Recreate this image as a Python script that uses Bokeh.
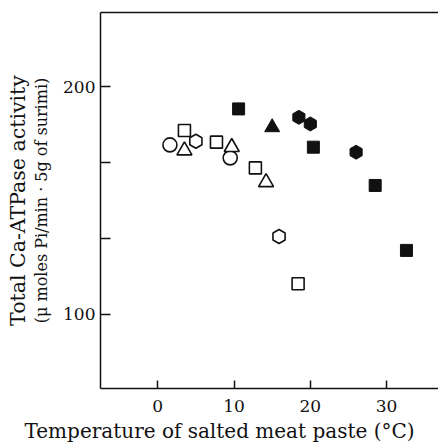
import numpy as np
from bokeh.plotting import figure
from bokeh.models import Range1d, FixedTicker, LinearAxis, Title
from bokeh.embed import file_html
from bokeh.resources import INLINE

# Data (temperature °C, total Ca-ATPase activity)
open_circle_x = [1.6, 9.5]
open_circle_y = [174.4, 168.7]
open_triangle_x = [3.5, 9.7, 14.2]
open_triangle_y = [171.9, 173.4, 158.0]
open_square_x = [3.5, 7.7, 12.8, 18.4]
open_square_y = [180.7, 175.6, 164.3, 113.5]
open_hex_x = [5.0, 15.9]
open_hex_y = [176.0, 134.2]
filled_square_x = [10.6, 20.4, 28.5, 32.6]
filled_square_y = [190.2, 173.4, 156.6, 128.1]
filled_triangle_x = [15.0]
filled_triangle_y = [182.1]
filled_hex_x = [18.5, 20.0, 26.0]
filled_hex_y = [186.5, 183.6, 171.2]

x_ticks = [0, 10, 20, 30]
y_major_ticks = [100, 200]
y_minor_ticks = [400 / 3, 500 / 3]

x_title = "Temperature of salted meat paste (°C)"
y_title_1 = "Total Ca-ATPase activity"
y_title_2 = "(μ moles Pi/min · 5g of surimi)"

FONT = "DejaVu Serif"
INK = "#111111"

p = figure(width=438, height=446, output_backend="svg", toolbar_location=None,
           x_range=Range1d(-7.5, 36.8), y_range=Range1d(67.5, 232.5),
           min_border_left=100, min_border_right=0, min_border_top=12,
           min_border_bottom=58, background_fill_color="white",
           border_fill_color="white", outline_line_color=None)
p.grid.visible = False

xa = p.xaxis[0]
xa.ticker = FixedTicker(ticks=x_ticks)
xa.major_tick_in = 8
xa.major_tick_out = 0
xa.minor_tick_line_color = None
xa.major_label_standoff = 11
xa.major_label_text_font = FONT
xa.major_label_text_font_size = "17px"
xa.major_label_text_color = INK
xa.axis_line_width = 1.5
xa.axis_line_color = INK
xa.major_tick_line_width = 1.5
xa.major_tick_line_color = INK

ya = p.yaxis[0]
ya.ticker = FixedTicker(ticks=y_major_ticks, minor_ticks=y_minor_ticks)
ya.major_tick_in = 10
ya.major_tick_out = 0
ya.minor_tick_in = 10
ya.minor_tick_out = 0
ya.major_label_standoff = 5
ya.major_label_text_font = FONT
ya.major_label_text_font_size = "17px"
ya.major_label_text_color = INK
ya.axis_label = y_title_2
ya.axis_label_text_font = FONT
ya.axis_label_text_font_size = "16px"
ya.axis_label_text_font_style = "normal"
ya.axis_label_text_color = INK
ya.axis_label_standoff = 9
ya.axis_line_width = 1.5
ya.axis_line_color = INK
ya.major_tick_line_width = 1.5
ya.minor_tick_line_width = 1.5
ya.major_tick_line_color = INK
ya.minor_tick_line_color = INK

top = LinearAxis(ticker=FixedTicker(ticks=[]), major_tick_in=0, major_tick_out=0,
                 minor_tick_in=0, minor_tick_out=0, major_label_standoff=0,
                 axis_line_width=1.5, axis_line_color=INK)
top.major_tick_line_color = None
top.minor_tick_line_color = None
p.add_layout(top, "above")

p.add_layout(Title(text=y_title_1, align="center", text_font=FONT,
                   text_font_size="20.5px", text_font_style="normal",
                   text_color=INK, standoff=0), "left")
p.add_layout(Title(text=x_title, align="left", offset=-76, text_font=FONT,
                   text_font_size="20px", text_font_style="normal",
                   text_color=INK, standoff=4), "below")

ang = np.pi / 6
p.scatter(open_circle_x, open_circle_y, marker="circle", size=14,
          fill_color="white", line_color=INK, line_width=1.6)
p.scatter(open_triangle_x, open_triangle_y, marker="triangle", size=15,
          fill_color="white", line_color=INK, line_width=1.6)
p.scatter(open_square_x, open_square_y, marker="square", size=12,
          fill_color="white", line_color=INK, line_width=1.6)
p.scatter(open_hex_x, open_hex_y, marker="hex", size=14, angle=ang,
          fill_color="white", line_color=INK, line_width=1.6)
p.scatter(filled_square_x, filled_square_y, marker="square", size=12,
          fill_color=INK, line_color=INK)
p.scatter(filled_triangle_x, filled_triangle_y, marker="triangle", size=15,
          fill_color=INK, line_color=INK)
p.scatter(filled_hex_x, filled_hex_y, marker="hex", size=14, angle=ang,
          fill_color=INK, line_color=INK)

open("out.html", "w").write(file_html(p, INLINE))
